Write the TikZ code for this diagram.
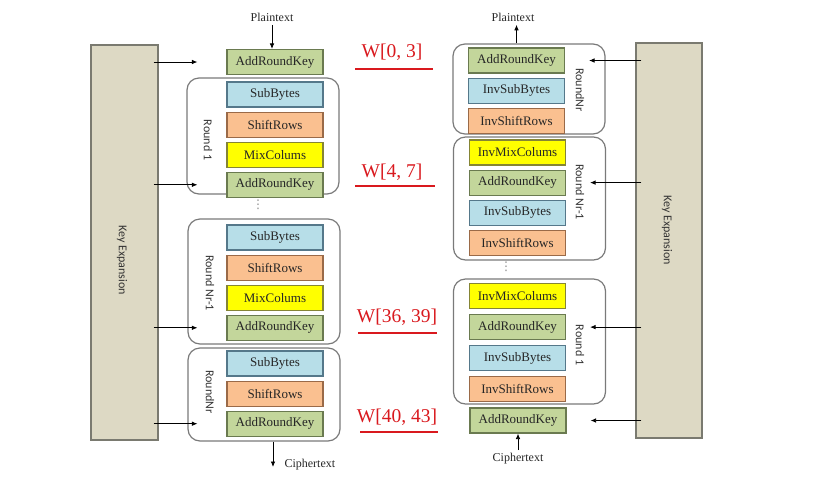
\documentclass[tikz,border=0pt]{standalone}
\usepackage{fontspec}
\setmainfont{Liberation Serif}
\newfontfamily\calfont{Carlito}
\newfontfamily\symfont{DejaVu Sans}
\usetikzlibrary{positioning,arrows.meta}
\definecolor{KeyTan}{HTML}{DDD9C4}
\definecolor{KeyEdge}{HTML}{7A7A70}
\definecolor{AddGreen}{HTML}{C3D69B}
\definecolor{AddEdge}{HTML}{6A7A50}
\definecolor{SubBlue}{HTML}{B7DEE8}
\definecolor{SubEdge}{HTML}{55788A}
\definecolor{ShiftOrange}{HTML}{FAC090}
\definecolor{ShiftEdge}{HTML}{9A6A48}
\definecolor{MixYellow}{HTML}{FFFF00}
\definecolor{MixEdge}{HTML}{858535}
\definecolor{FrameGray}{HTML}{7A7A7A}
\definecolor{WRed}{HTML}{D9191E}

\begin{document}
\begin{tikzpicture}[x=1pt, y=-1pt,
    node distance=4pt,
    block/.style={rectangle, draw, line width=1.1pt, text=black!85, minimum height=25pt, minimum width=96pt, inner sep=0pt, font=\fontsize{13}{15}\selectfont},
    arkb/.style={block, fill=AddGreen, draw=AddEdge},
    subb/.style={block, fill=SubBlue, draw=SubEdge},
    shiftb/.style={block, fill=ShiftOrange, draw=ShiftEdge},
    mixb/.style={block, fill=MixYellow, draw=MixEdge},
    roundframe/.style={draw=FrameGray, line width=1.2pt, rounded corners=12pt, minimum width=152pt},
    keybox/.style={draw=KeyEdge, fill=KeyTan, line width=1.1pt, minimum width=67pt, minimum height=395pt},
    rlabel/.style={rotate=-90, font=\calfont\fontsize{12}{14}\selectfont, text=black!80},
    iolabel/.style={font=\fontsize{12}{14}\selectfont, text=black!85},
    dotsmark/.style={text=black!45, inner sep=0pt, font=\symfont\fontsize{12}{13}\selectfont},
    arrow/.style={-{Latex[length=5.5pt,width=4.5pt]}, line width=0.8pt},
    wlabel/.style={text=WRed, font=\fontsize{19.5}{22}\selectfont},
    redline/.style={draw=WRed, line width=2.2pt}
]
\useasboundingbox (0,0) rectangle (825,483);

% key expansion, left
\node[keybox] (keyL) at (124.5,242.5) {};
\node[rlabel] (keyLtxt) at (122,260) {Key Expansion};

% encryption
\node[iolabel] (plainL) at (272,17) {Plaintext};
\node[arkb] (ark0) at (275,62) {AddRoundKey};

\node[roundframe, minimum height=116pt] (r1L) at (263,136) {};
\node[subb] (sb1) at (275,94.5) {SubBytes};
\node[shiftb, below=of sb1] (sr1) {ShiftRows};
\node[mixb, below=of sr1] (mc1) {MixColums};
\node[arkb, below=of mc1] (ark1) {AddRoundKey};
\node[rlabel] (r1Ltxt) at (208,140) {Round 1};

\node[dotsmark] (dotsL) at (258,205) {⋮};

\node[roundframe, minimum height=125pt] (rNm1L) at (264,281.5) {};
\node[subb] (sb2) at (275,237.5) {SubBytes};
\node[shiftb, below=of sb2] (sr2) {ShiftRows};
\node[mixb, below=of sr2] (mc2) {MixColums};
\node[arkb, below=of mc2] (ark2) {AddRoundKey};
\node[rlabel] (rNm1Ltxt) at (210,283) {Round Nr-1};

\node[roundframe, minimum height=93pt] (rNrL) at (264,394.5) {};
\node[subb] (sb3) at (275,363.5) {SubBytes};
\node[shiftb, below=of sb3] (sr3) {ShiftRows};
\node[arkb, below=of sr3] (ark3) {AddRoundKey};
\node[rlabel] (rNrLtxt) at (210,392) {RoundNr};

\coordinate (cendL) at (273,467);
\node[iolabel, anchor=west] (cipherL) at (281,465) {Ciphertext};

% decryption
\node[iolabel] (plainR) at (513,17) {Plaintext};

\node[roundframe, minimum height=90pt] (rNrR) at (529,89) {};
\node[arkb] (arkR0) at (516.5,60.5) {AddRoundKey};
\node[subb, below=of arkR0] (isbR0) {InvSubBytes};
\node[shiftb, below=of isbR0] (isrR0) {InvShiftRows};
\node[rlabel] (rNrRtxt) at (580,90) {RoundNr};

\node[roundframe, minimum height=123pt] (rNm1R) at (529.5,198.5) {};
\node[mixb] (imcR1) at (517.5,152.5) {InvMixColums};
\node[arkb, below=of imcR1] (arkR1) {AddRoundKey};
\node[subb, below=of arkR1] (isbR1) {InvSubBytes};
\node[shiftb, below=of isbR1] (isrR1) {InvShiftRows};
\node[rlabel] (rNm1Rtxt) at (580,192) {Round Nr-1};

\node[dotsmark] (dotsR) at (506,267) {⋮};

\node[roundframe, minimum height=125pt] (r1R) at (529.5,341.5) {};
\node[mixb] (imcR2) at (517.5,296) {InvMixColums};
\node[arkb, below=5pt of imcR2] (arkR2) {AddRoundKey};
\node[subb, below=5pt of arkR2] (isbR2) {InvSubBytes};
\node[shiftb, below=5pt of isbR2] (isrR2) {InvShiftRows};
\node[rlabel] (r1Rtxt) at (580,345) {Round 1};

\node[arkb] (arkRB) at (518,420.5) {AddRoundKey};
\node[iolabel] (cipherR) at (518,459) {Ciphertext};

% key expansion, right
\node[keybox, minimum width=66pt] (keyR) at (669,240.5) {};
\node[rlabel] (keyRtxt) at (667,230) {Key Expansion};

% round keys
\node[wlabel] (w03) at (392,52) {W[0, 3]};
\draw[redline] (355,69) -- (433,69);
\node[wlabel] (w47) at (392,172) {W[4, 7]};
\draw[redline] (355,186) -- (435,186);
\node[wlabel] (w3639) at (397,317) {W[36, 39]};
\draw[redline] (358,333) -- (437,333);
\node[wlabel] (w4043) at (397,417) {W[40, 43]};
\draw[redline] (360,432) -- (438,432);

% data flow
\draw[arrow] (plainL.south) -- (plainL.south |- ark0.north);
\draw[arrow] (cendL |- rNrL.south) -- (cendL);
\draw[arrow] (rNrR.north -| arkR0) -- (plainR.south -| arkR0);
\draw[arrow] (cipherR.north) -- (arkRB.south);

% key schedule
\draw[arrow] ([xshift=-5pt]keyL.east |- ark0) -- ([xshift=-29pt]ark0.west);
\draw[arrow] ([xshift=-5pt]keyL.east |- ark1) -- ([xshift=-29pt]ark1.west);
\draw[arrow] ([xshift=-5pt]keyL.east |- ark2) -- ([xshift=-29pt]ark2.west);
\draw[arrow] ([xshift=-5pt]keyL.east |- ark3) -- ([xshift=-29pt]ark3.west);
\draw[arrow] ([xshift=6pt]keyR.west |- arkR0) -- ([xshift=24pt]arkR0.east);
\draw[arrow] ([xshift=6pt]keyR.west |- arkR1) -- ([xshift=24pt]arkR1.east);
\draw[arrow] ([xshift=6pt]keyR.west |- arkR2) -- ([xshift=24pt]arkR2.east);
\draw[arrow] ([xshift=6pt]keyR.west |- arkRB) -- ([xshift=24pt]arkRB.east);
\end{tikzpicture}
\end{document}
